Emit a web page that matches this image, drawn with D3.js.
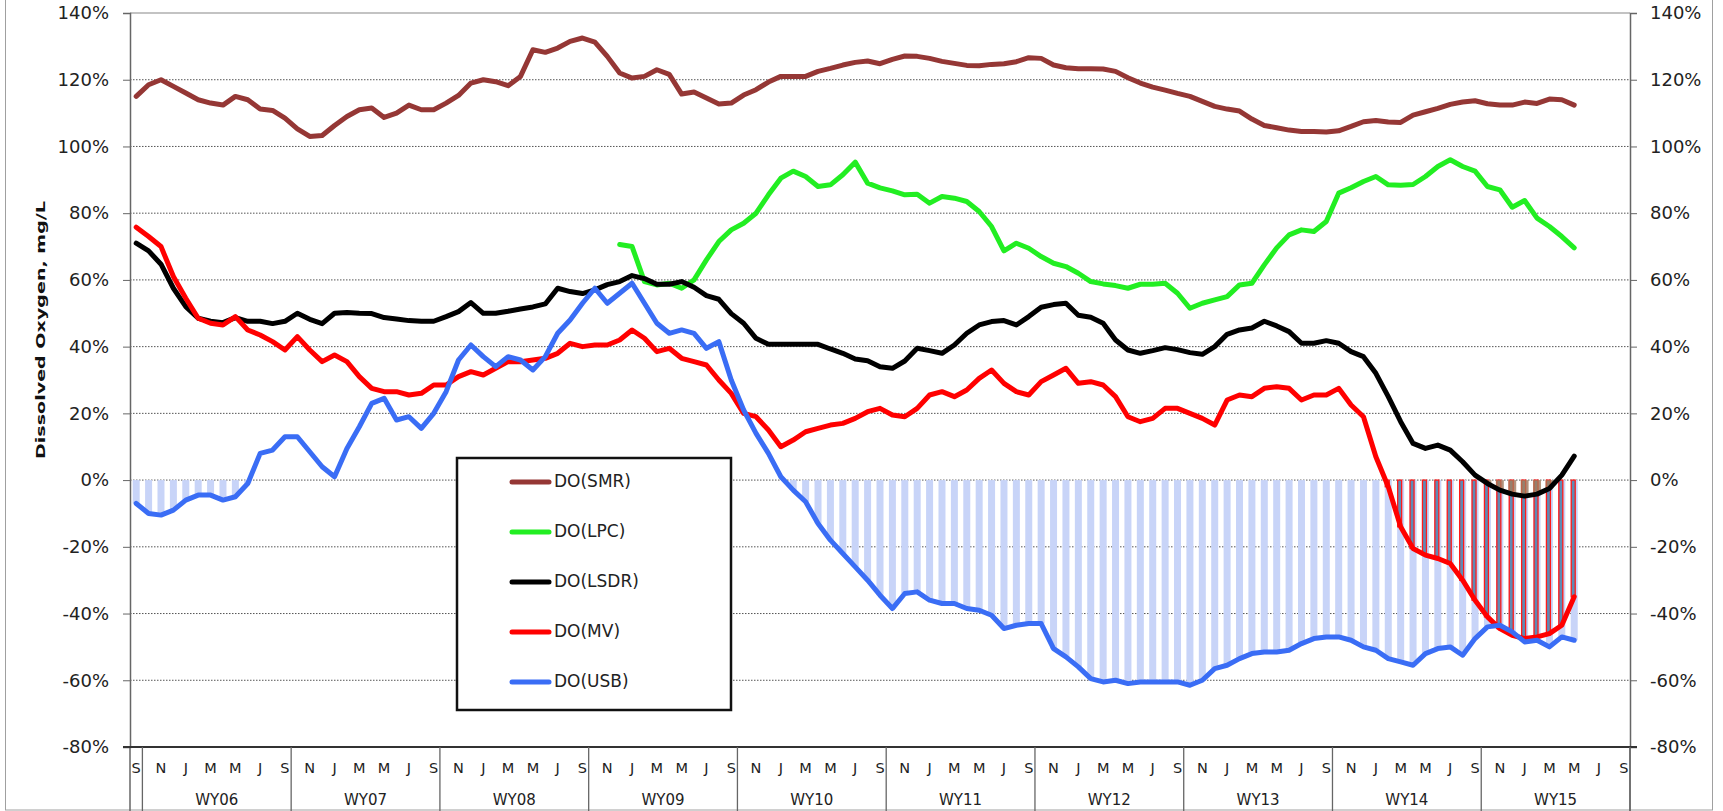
<!DOCTYPE html>
<html><head><meta charset="utf-8">
<script src="https://cdn.jsdelivr.net/npm/d3@7"></script>
<style>body{margin:0;background:#fff}svg{display:block}</style>
</head><body><svg id="c" width="1723" height="811"></svg>
<script>
// ---- categories / tick labels ----
const startYear = 2005, startMonth = 8, nCats = 121; // Sep 2005 .. Sep 2015
const monthInitials = ["J","F","M","A","M","J","J","A","S","O","N","D"];
const wyLabels = ["WY06","WY07","WY08","WY09","WY10","WY11","WY12","WY13","WY14","WY15"];
const yTicks = [-80,-60,-40,-20,0,20,40,60,80,100,120,140];
const seriesNames = ["DO(SMR)","DO(LPC)","DO(LSDR)","DO(MV)","DO(USB)"];
const seriesColors = ["#953735","#22ee22","#000000","#ff0000","#3a6df5"];

// ---- series values (%), monthly from Sep 2005 ----
const smr = [115,118.5,120,118,116,114,113,112.4,115,114,111.2,110.8,108.5,105.3,103,103.3,106.3,109,111,111.5,
 108.7,110,112.4,111,111,113,115.3,119,120,119.4,118.2,121,129,128.2,129.5,131.5,132.5,131.3,127,122,
 120.5,121,123,121.6,115.7,116.3,114.5,112.7,113,115.4,117,119.3,121,121,121,122.5,123.4,124.4,125.2,125.6,
 124.8,126.1,127.1,127,126.4,125.5,124.9,124.3,124.2,124.6,124.8,125.4,126.6,126.4,124.4,123.6,123.3,123.3,123.2,122.5,
 120.6,119,117.8,116.9,115.9,115,113.5,112,111.2,110.6,108.2,106.3,105.6,104.9,104.5,104.5,104.3,104.7,106,107.4,
 107.8,107.3,107.2,109.4,110.4,111.4,112.6,113.3,113.7,112.8,112.4,112.4,113.3,112.9,114.2,114,112.4];
const lpcStart = 39;
const lpcValues = [70.6,70,59.5,58.5,59,57.5,60,66,71.5,75,77,80,85.5,90.5,92.6,91,88,88.5,91.5,95.3,
 89,87.6,86.7,85.5,85.7,83,85,84.5,83.5,80.5,76,68.7,71,69.5,67,65,64,62,59.5,58.8,
 58.3,57.5,58.7,58.7,59,56,51.5,53,54,55,58.5,59,64.5,69.6,73.5,75,74.5,77.5,86,87.6,
 89.5,91,88.5,88.4,88.6,91,94,96,94,92.6,88,87,81.8,83.8,78.5,76,73,69.6];
const lsdr = [71,68.7,64.7,57.5,52,48.5,47.6,47.2,48.7,47.6,47.6,46.9,47.6,50,48.2,46.9,50,50.2,50,49.9,
 48.7,48.3,47.8,47.6,47.6,49,50.5,53.2,50,50,50.6,51.3,51.9,52.8,57.5,56.5,55.9,57,58.6,59.5,
 61.3,60.4,58.7,58.7,59.5,57.8,55.3,54.2,49.9,47,42.5,40.7,40.7,40.7,40.7,40.7,39.3,38,36.3,35.8,
 34,33.5,35.7,39.5,38.8,38,40.5,44,46.5,47.5,47.8,46.5,49,51.8,52.6,53,49.4,48.8,47,42,
 39,38,38.8,39.7,39.1,38.2,37.7,40,43.7,45,45.6,47.6,46.2,44.5,41,41,41.8,41,38.5,37,
 32,25,17.5,11,9.5,10.5,9,5.5,1.5,-1,-3,-4.2,-4.8,-4.2,-2.5,1.5,7.2];
const mv = [75.8,73,70,61,54.5,48.5,47,46.5,49,45,43.5,41.5,39,43,39,35.5,37.5,35.5,31,27.5,
 26.5,26.5,25.5,26,28.5,28.5,31,32.5,31.5,33.5,35.5,35.5,36,36.5,38,41,40,40.5,40.5,42,
 45,42.5,38.5,39.5,36.5,35.5,34.5,30,26,20,19,15,10,12,14.5,15.5,16.5,17,18.5,20.5,
 21.5,19.5,19,21.5,25.5,26.5,25,27,30.5,33,29,26.5,25.5,29.5,31.5,33.5,29,29.5,28.5,25,
 19,17.5,18.5,21.5,21.5,20,18.5,16.5,24,25.5,25,27.5,28,27.5,24,25.5,25.5,27.5,22.5,19,
 7,-2,-14,-20.5,-22.5,-23.5,-25,-30,-36,-41,-44.5,-46.5,-47.5,-47,-46,-43.5,-35];
const usb = [-7,-10,-10.5,-9,-6,-4.5,-4.5,-6,-5,-1,8,9,13,13,8.5,4,1,9.5,16,23,
 24.5,18,19,15.5,20,26.5,36,40.5,37,34,37,36,33,37,44,48,53,57.5,53,56,
 59,53,47,44,45,44,39.5,41.5,30,21,14,8,1,-3,-6.5,-13,-18,-22,-26,-30,
 -34.5,-38.5,-34,-33.5,-36,-37,-37,-38.5,-39,-40.5,-44.5,-43.5,-43,-43,-50.5,-53,-56,-59.5,-60.5,-60,
 -61,-60.5,-60.5,-60.5,-60.5,-61.5,-60,-56.5,-55.5,-53.5,-52,-51.5,-51.5,-51,-49,-47.5,-47,-47,-48,-50,
 -51,-53.5,-54.5,-55.5,-52,-50.5,-50,-52.5,-47.5,-44,-43.5,-45.5,-48.5,-48,-50,-47,-48];

// ---- build ----
const cats = d3.range(nCats).map(i => {
  const m = (startMonth + i) % 12;
  return {i, m, letter: monthInitials[m]};
});
const lpc = d3.range(smr.length).map(i => i >= lpcStart ? lpcValues[i - lpcStart] : null);
const allSeries = [smr, lpc, lsdr, mv, usb];

const svg = d3.select("#c");
const L = 130, R = 1630, T = 13, B = 747;
const x = d3.scaleBand().domain(d3.range(nCats)).range([L, R]).padding(0);
const bw = x.bandwidth();
const cx = i => x(i) + bw / 2;
const y = d3.scaleLinear().domain([-80, 140]).range([B, T]);

// outer chart border
svg.append("rect").attr("x", 5.5).attr("y", -2).attr("width", 1707).attr("height", 812)
  .attr("fill", "none").attr("stroke", "#a0a0a0").attr("stroke-width", 1);

// gridlines
svg.append("g").selectAll("line").data(yTicks.filter(t => t > -80 && t < 140)).join("line")
  .attr("x1", L).attr("x2", R).attr("y1", d => y(d)).attr("y2", d => y(d))
  .attr("stroke", "#555").attr("stroke-width", 1).attr("stroke-dasharray", "1.5,1.5");
// top border line
svg.append("line").attr("x1", L).attr("x2", R).attr("y1", T).attr("y2", T)
  .attr("stroke", "#888").attr("stroke-width", 1.2);

// bars (negative portions)
const barG = svg.append("g");
barG.selectAll("rect.u").data(usb.map((v, i) => ({v, i})).filter(d => d.v < 0)).join("rect")
  .attr("x", d => cx(d.i) - 3.5).attr("width", 7)
  .attr("y", y(0)).attr("height", d => y(d.v) - y(0))
  .attr("fill", "#c8d4f8");
barG.selectAll("rect.m").data(mv.map((v, i) => ({v, i})).filter(d => d.v < 0)).join("rect")
  .attr("x", d => cx(d.i) - 3).attr("width", 4)
  .attr("y", y(0)).attr("height", d => y(d.v) - y(0))
  .attr("fill", "#5f8ab5").attr("stroke", "#ff1a1a").attr("stroke-width", 1.3);
barG.selectAll("rect.l").data(lsdr.map((v, i) => ({v, i})).filter(d => d.v < 0)).join("rect")
  .attr("x", d => cx(d.i) - 4).attr("width", 8)
  .attr("y", y(0)).attr("height", d => y(d.v) - y(0))
  .attr("fill", "#a87c55").attr("opacity", 0.75);

// lines
const line = d3.line().defined(d => d != null).x((d, i) => cx(i)).y(d => y(d));
svg.append("g").selectAll("path").data(allSeries).join("path")
  .attr("d", d => line(d)).attr("fill", "none")
  .attr("stroke", (d, k) => seriesColors[k]).attr("stroke-width", 5)
  .attr("stroke-linejoin", "round").attr("stroke-linecap", "round");

// axes
const fontFam = "'DejaVu Sans', Verdana, sans-serif";
const yL = svg.append("g").attr("transform", `translate(${L},0)`)
  .call(d3.axisLeft(y).tickValues(yTicks).tickFormat(d => d + "%").tickSize(7).tickPadding(14));
const yR = svg.append("g").attr("transform", `translate(${R},0)`)
  .call(d3.axisRight(y).tickValues(yTicks).tickFormat(d => d + "%").tickSize(7).tickPadding(13));
[yL, yR].forEach(g => {
  g.select(".domain").attr("stroke", "#666").attr("stroke-width", 1.5);
  g.selectAll(".tick line").attr("stroke", "#666");
  g.selectAll("text").attr("font-family", fontFam).attr("font-size", 18).attr("fill", "#222");
});
// extend vertical axis lines through category area
svg.append("line").attr("x1", L).attr("x2", L).attr("y1", B).attr("y2", 811).attr("stroke", "#666").attr("stroke-width", 1.5);
svg.append("line").attr("x1", R).attr("x2", R).attr("y1", B).attr("y2", 811).attr("stroke", "#666").attr("stroke-width", 1.5);
// bottom axis line
svg.append("line").attr("x1", L - 7).attr("x2", R + 7).attr("y1", B).attr("y2", B).attr("stroke", "#333").attr("stroke-width", 2);

// category axis: month letters
svg.append("g").selectAll("text").data(cats.filter(c => c.i % 2 === 0)).join("text")
  .attr("x", c => cx(c.i)).attr("y", 769).attr("text-anchor", "middle").attr("dominant-baseline", "middle")
  .attr("font-family", fontFam).attr("font-size", 14.5).attr("fill", "#222").text(c => c.letter);
// WY dividers and labels
const wyStart = k => 1 + 12 * k;
const divs = d3.range(wyLabels.length + 1).map(wyStart);
svg.append("g").selectAll("line").data(divs).join("line")
  .attr("x1", i => x(i) !== undefined ? x(i) : R).attr("x2", i => x(i) !== undefined ? x(i) : R)
  .attr("y1", B).attr("y2", 811).attr("stroke", "#666").attr("stroke-width", 1.3);
svg.append("g").selectAll("text").data(wyLabels).join("text")
  .attr("x", (d, k) => (x(wyStart(k)) + (x(wyStart(k + 1)) ?? R)) / 2)
  .attr("y", 800).attr("text-anchor", "middle").attr("dominant-baseline", "middle")
  .attr("font-family", fontFam).attr("font-size", 15).attr("fill", "#222").text(d => d);

// y title
svg.append("text").attr("transform", "translate(41,330) rotate(-90)")
  .attr("text-anchor", "middle").attr("dominant-baseline", "middle")
  .attr("font-family", fontFam).attr("font-weight", "bold").attr("font-size", 12.5)
  .attr("textLength", 258).attr("lengthAdjust", "spacingAndGlyphs")
  .attr("fill", "#111").text("Dissolved Oxygen, mg/L");

// legend
const lg = svg.append("g");
lg.append("rect").attr("x", 457).attr("y", 458).attr("width", 274).attr("height", 252)
  .attr("fill", "#fff").attr("stroke", "#111").attr("stroke-width", 2.5);
const legY = d3.scalePoint().domain(seriesNames).range([482, 682]);
seriesNames.forEach((n, k) => {
  lg.append("line").attr("x1", 512).attr("x2", 549).attr("y1", legY(n)).attr("y2", legY(n))
    .attr("stroke", seriesColors[k]).attr("stroke-width", 5).attr("stroke-linecap", "round");
  lg.append("text").attr("x", 554).attr("y", legY(n)).attr("dominant-baseline", "middle")
    .attr("font-family", fontFam).attr("font-size", 17).attr("fill", "#222").text(n);
});
</script></body></html>
